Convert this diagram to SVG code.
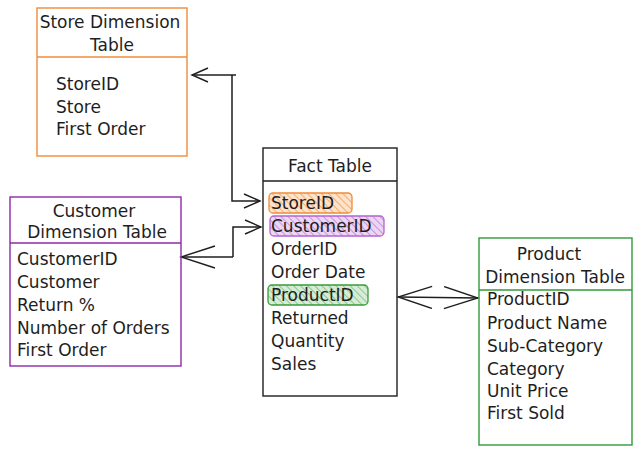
<svg xmlns="http://www.w3.org/2000/svg" width="639" height="454" viewBox="0 0 639 454">
<style>
text{font-family:"DejaVu Sans","Liberation Sans",sans-serif;font-size:17px;fill:#1e1e1e}
.c{text-anchor:middle}
.box{fill:none;stroke-width:1.4}
.con{fill:none;stroke:#1e1e1e;stroke-width:1.5}
</style>
<defs>
<pattern id="hO" width="5" height="5" patternUnits="userSpaceOnUse" patternTransform="rotate(-45)"><rect width="5" height="5" fill="#fde3cc"/><line x1="0" y1="0" x2="0" y2="5" stroke="#f08c3a" stroke-width="1.2"/></pattern>
<pattern id="hP" width="5" height="5" patternUnits="userSpaceOnUse" patternTransform="rotate(-45)"><rect width="5" height="5" fill="#ecd6f3"/><line x1="0" y1="0" x2="0" y2="5" stroke="#b266d0" stroke-width="1.2"/></pattern>
<pattern id="hG" width="5" height="5" patternUnits="userSpaceOnUse" patternTransform="rotate(-45)"><rect width="5" height="5" fill="#d6ecd6"/><line x1="0" y1="0" x2="0" y2="5" stroke="#5fae5f" stroke-width="1.2"/></pattern>
<marker id="ar" viewBox="0 0 20 20" refX="18" refY="10" markerWidth="20" markerHeight="20" markerUnits="userSpaceOnUse" orient="auto-start-reverse"><path d="M2,3 L18,10 L2,17" fill="none" stroke="#1e1e1e" stroke-width="1.4"/></marker>
<marker id="arL" viewBox="0 0 40 24" refX="38" refY="12" markerWidth="40" markerHeight="24" markerUnits="userSpaceOnUse" orient="auto-start-reverse"><path d="M4,1 L38,12 L4,23" fill="none" stroke="#1e1e1e" stroke-width="1.4"/></marker>
</defs>
<g id="connectors">
<path class="con" d="M232,75 L232,201 L260,201" marker-end="url(#ar)"/>
<path class="con" d="M236,75 L192,75" marker-end="url(#ar)"/>
<path class="con" d="M233,257 L233,227 L261,227" marker-end="url(#ar)"/>
<path class="con" d="M233,257 L181,257" marker-end="url(#arL)"/>
<path class="con" d="M398,297 L478,298" marker-start="url(#arL)" marker-end="url(#arL)"/>
</g>
<g id="store">
<rect class="box" x="37" y="8" width="150" height="148" stroke="#f08c3a"/>
<line x1="37" y1="57" x2="187" y2="57" stroke="#f08c3a" stroke-width="1.4"/>
<text class="c" x="110" y="28">Store Dimension</text>
<text class="c" x="112" y="51">Table</text>
<text x="56" y="90">StoreID</text>
<text x="56" y="113">Store</text>
<text x="56" y="135">First Order</text>
</g>
<g id="customer">
<rect class="box" x="10" y="197" width="171" height="169" stroke="#8e2aa8"/>
<line x1="10" y1="243" x2="181" y2="243" stroke="#8e2aa8" stroke-width="1.4"/>
<text class="c" x="94" y="217">Customer</text>
<text class="c" x="97" y="238">Dimension Table</text>
<text x="17" y="265">CustomerID</text>
<text x="17" y="288">Customer</text>
<text x="17" y="311">Return %</text>
<text x="17" y="334">Number of Orders</text>
<text x="17" y="356">First Order</text>
</g>
<g id="fact">
<rect class="box" x="263" y="148" width="134" height="248" stroke="#1e1e1e"/>
<line x1="263" y1="181" x2="397" y2="181" stroke="#1e1e1e" stroke-width="1.4"/>
<rect x="269" y="193" width="83" height="20" rx="4" fill="url(#hO)" stroke="#f08c3a" stroke-width="1.3"/>
<rect x="270" y="216" width="114" height="20" rx="4" fill="url(#hP)" stroke="#b266d0" stroke-width="1.3"/>
<rect x="268" y="285" width="100" height="20" rx="4" fill="url(#hG)" stroke="#3a9a3a" stroke-width="1.3"/>
<text class="c" x="330" y="172">Fact Table</text>
<text x="271" y="209">StoreID</text>
<text x="271" y="232">CustomerID</text>
<text x="271" y="255">OrderID</text>
<text x="271" y="278">Order Date</text>
<text x="271" y="301">ProductID</text>
<text x="271" y="324">Returned</text>
<text x="271" y="347">Quantity</text>
<text x="271" y="370">Sales</text>
</g>
<g id="product">
<rect class="box" x="479" y="238" width="153" height="207" stroke="#2f9a3a"/>
<line x1="479" y1="290" x2="632" y2="290" stroke="#2f9a3a" stroke-width="1.4"/>
<text class="c" x="549" y="260">Product</text>
<text class="c" x="555" y="283">Dimension Table</text>
<text x="487" y="305">ProductID</text>
<text x="487" y="329">Product Name</text>
<text x="487" y="352">Sub-Category</text>
<text x="487" y="375">Category</text>
<text x="487" y="397">Unit Price</text>
<text x="487" y="419">First Sold</text>
</g>
</svg>
